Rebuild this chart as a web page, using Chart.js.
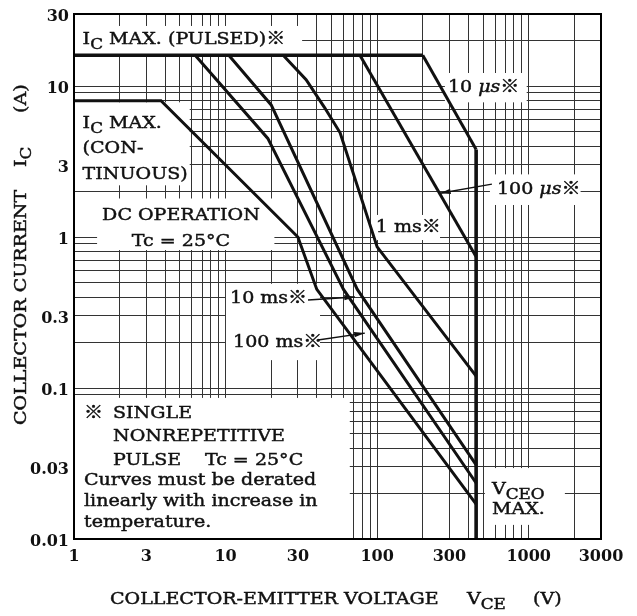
<!DOCTYPE html>
<html lang="en">
<head>
<meta charset="utf-8">
<title>Safe Operating Area</title>
<script src="https://cdn.jsdelivr.net/npm/chart.js@4.4.1/dist/chart.umd.min.js"></script>
<style>
  html, body { margin: 0; padding: 0; background: #fff; }
  #wrap { position: relative; width: 637px; height: 616px; }
</style>
</head>
<body>
<div id="wrap"><canvas id="soa"></canvas></div>
<script>
// --- tick labels ---
const xLabels = [1, 3, 10, 30, 100, 300, 1000, 3000];
const yLabels = [0.01, 0.03, 0.1, 0.3, 1, 3, 10, 30];

// --- SOA curves, VCE (V) / IC (A) ---
const pulsedV = [1, 200];                    const pulsedI = [16, 16];
const dcV = [1, 3.75, 30, 40, 450];          const dcI = [8, 8, 1, 0.45, 0.017];
const ms100V = [6.3, 19, 60, 450];           const ms100I = [16, 4.5, 0.45, 0.0235];
const ms10V = [10.5, 20, 74, 450];           const ms10I = [16, 7.5, 0.45, 0.031];
const ms1V = [24, 34, 45, 57, 100, 450];     const ms1I = [16, 11, 7.2, 4.9, 0.86, 0.12];
const us100V = [77, 450];                    const us100I = [16, 0.74];
const us10V = [200, 450];                    const us10I = [16, 3.8];
const vceoV = [450, 450];                    const vceoI = [3.8, 0.01];

const SERIF = '"DejaVu Serif", "Noto Sans CJK JP", serif';
const STRETCH = 1.12;

// grid lines 1-2-3...9 per decade
function gridValues(lo, hi) {
  const out = [];
  for (let d = lo; d < hi; d *= 10) {
    for (let k = 1; k <= 9; k++) {
      const v = +(k * d).toPrecision(3);
      if (v <= hi) out.push(v);
    }
  }
  out.push(hi);
  return [...new Set(out)];
}

// white patches behind the notes [V1, I1, V2, I2]
const patches = [
  [1, 25, 32, 16],
  [1, 7.8, 5.8, 2.2],
  [1.42, 1.8, 21, 0.82],
  [280, 12.2, 970, 7.8],
  [555, 2.6, 2200, 1.63],
  [95, 1.4, 260, 0.955],
  [10.06, 0.49, 42, 0.153],
  [1, 0.086, 66, 0.01],
  [514, 0.0295, 1733, 0.0124]
];

// notes: anchor in data units, text parts
const notes = [
  { v: 1.14, i: 20.2, parts: [['I'], ['C', 'sub'], [' MAX. (PULSED)※']] },
  { v: 1.14, i: 5.6, parts: [['I'], ['C', 'sub'], [' MAX.']] },
  { v: 1.14, i: 3.83, parts: [['(CON-']] },
  { v: 1.14, i: 2.61, parts: [['TINUOUS)']] },
  { v: 5.08, i: 1.38, parts: [['DC OPERATION']], align: 'center' },
  { v: 5.08, i: 0.927, parts: [['Tc = 25°C']], align: 'center' },
  { v: 293, i: 9.7, parts: [['10 '], ['μs', 'it'], ['※']] },
  { v: 617, i: 2.05, parts: [['100 '], ['μs', 'it'], ['※']] },
  { v: 98, i: 1.15, parts: [['1 ms※']] },
  { v: 10.7, i: 0.394, parts: [['10 ms※']] },
  { v: 11.2, i: 0.199, parts: [['100 ms※']] },
  { v: 1.164, i: 0.0673, parts: [['※']] },
  { v: 1.81, i: 0.0673, parts: [['SINGLE']] },
  { v: 1.81, i: 0.0474, parts: [['NONREPETITIVE']] },
  { v: 1.81, i: 0.0333, parts: [['PULSE']] },
  { v: 7.31, i: 0.0333, parts: [['Tc = 25°C']] },
  { v: 1.164, i: 0.0242, parts: [['Curves must be derated']] },
  { v: 1.164, i: 0.0176, parts: [['linearly with increase in']] },
  { v: 1.164, i: 0.0128, parts: [['temperature.']] },
  { v: 572, i: 0.0211, parts: [['V'], ['CEO', 'sub']] },
  { v: 572, i: 0.0156, parts: [['MAX.']] }
];

// arrows [tailV, tailI, tipV, tipI]
const arrows = [
  [572, 2.24, 260, 1.95],
  [35, 0.383, 71.4, 0.401],
  [40.7, 0.208, 83, 0.231]
];

function drawParts(ctx, parts, x, y, align) {
  const pieces = parts.map(p => {
    const kind = p[1] || '';
    const size = kind === 'sub' ? 15 : 17;
    ctx.font = (kind === 'it' ? 'italic ' : '') + size + 'px ' + SERIF;
    return { text: p[0], font: ctx.font, dy: kind === 'sub' ? 5 : 0, w: ctx.measureText(p[0]).width * STRETCH };
  });
  let cx = x;
  if (align === 'center') cx -= pieces.reduce((s, p) => s + p.w, 0) / 2;
  pieces.forEach(p => {
    ctx.save();
    ctx.font = p.font;
    ctx.translate(cx, y + p.dy);
    ctx.scale(STRETCH, 1);
    ctx.lineWidth = 0.45;
    ctx.fillText(p.text, 0, 0);
    ctx.strokeText(p.text, 0, 0);
    ctx.restore();
    cx += p.w;
  });
}

function serie(vs, is, width) {
  return {
    data: vs.map((v, k) => ({ x: v, y: is[k] })),
    showLine: true, borderColor: '#111', borderWidth: width || 3,
    pointRadius: 0, tension: 0, fill: false
  };
}

const overlay = {
  id: 'overlay',
  beforeDatasetsDraw(chart) {
    const { ctx, scales: { x, y } } = chart;
    ctx.save();
    ctx.fillStyle = '#fff';
    patches.forEach(b => {
      const x1 = x.getPixelForValue(b[0]), y1 = y.getPixelForValue(b[1]);
      const x2 = x.getPixelForValue(b[2]), y2 = y.getPixelForValue(b[3]);
      ctx.fillRect(x1, y1, x2 - x1, y2 - y1);
    });
    ctx.restore();
  },
  afterDatasetsDraw(chart) {
    const { ctx, chartArea: a, scales: { x, y } } = chart;
    ctx.save();
    ctx.fillStyle = '#111';
    ctx.strokeStyle = '#111';
    ctx.textBaseline = 'middle';
    ctx.textAlign = 'left';

    // arrows
    arrows.forEach(r => {
      const x1 = x.getPixelForValue(r[0]), y1 = y.getPixelForValue(r[1]);
      const x2 = x.getPixelForValue(r[2]), y2 = y.getPixelForValue(r[3]);
      const ang = Math.atan2(y2 - y1, x2 - x1);
      ctx.lineWidth = 1.4;
      ctx.beginPath(); ctx.moveTo(x1, y1); ctx.lineTo(x2, y2); ctx.stroke();
      ctx.beginPath();
      ctx.moveTo(x2, y2);
      ctx.lineTo(x2 - 11 * Math.cos(ang - 0.25), y2 - 11 * Math.sin(ang - 0.25));
      ctx.lineTo(x2 - 11 * Math.cos(ang + 0.25), y2 - 11 * Math.sin(ang + 0.25));
      ctx.closePath(); ctx.fill();
    });

    // notes
    notes.forEach(n => {
      drawParts(ctx, n.parts, x.getPixelForValue(n.v), y.getPixelForValue(n.i), n.align);
    });

    // frame
    ctx.lineWidth = 2;
    ctx.strokeStyle = '#000';
    ctx.strokeRect(a.left, a.top, a.right - a.left, a.bottom - a.top);

    // tick labels
    ctx.font = 'bold 16px ' + SERIF;
    ctx.textAlign = 'center';
    xLabels.forEach(v => ctx.fillText(String(v), x.getPixelForValue(v), a.bottom + 18));
    ctx.textAlign = 'right';
    yLabels.forEach(v => ctx.fillText(String(v), a.left - 5, y.getPixelForValue(v) + 3));

    // axis titles
    ctx.textAlign = 'left';
    ctx.strokeStyle = '#111';
    drawParts(ctx, [['COLLECTOR-EMITTER VOLTAGE']], 110, 600);
    drawParts(ctx, [['V'], ['CE', 'sub']], 467, 600);
    drawParts(ctx, [['(V)']], 533, 600);

    ctx.translate(22, 425);
    ctx.rotate(-Math.PI / 2);
    drawParts(ctx, [['COLLECTOR CURRENT']], 0, 0);
    drawParts(ctx, [['I'], ['C', 'sub']], 258, 0);
    drawParts(ctx, [['(A)']], 312, 0);
    ctx.restore();
  }
};

const gridOpts = { color: '#333', lineWidth: 1, drawTicks: false };

new Chart(document.getElementById('soa'), {
  type: 'scatter',
  data: {
    datasets: [
      serie(pulsedV, pulsedI, 3.6),
      serie(dcV, dcI),
      serie(ms100V, ms100I),
      serie(ms10V, ms10I),
      serie(ms1V, ms1I),
      serie(us100V, us100I),
      serie(us10V, us10I),
      serie(vceoV, vceoI, 3.6)
    ]
  },
  options: {
    responsive: true, maintainAspectRatio: false, animation: false,
    devicePixelRatio: 1,
    layout: { padding: { left: 74, top: 14, right: 36, bottom: 77 } },
    plugins: { legend: { display: false }, tooltip: { enabled: false } },
    scales: {
      x: {
        type: 'logarithmic', min: 1, max: 3000,
        afterBuildTicks: s => { s.ticks = gridValues(1, 3000).map(v => ({ value: v })); },
        ticks: { display: false, autoSkip: false },
        grid: gridOpts, border: { color: '#000', width: 2 }
      },
      y: {
        type: 'logarithmic', min: 0.01, max: 30,
        afterBuildTicks: s => { s.ticks = gridValues(0.01, 30).map(v => ({ value: v })); },
        ticks: { display: false, autoSkip: false },
        grid: gridOpts, border: { color: '#000', width: 2 }
      }
    }
  },
  plugins: [overlay]
});
</script>
</body>
</html>
